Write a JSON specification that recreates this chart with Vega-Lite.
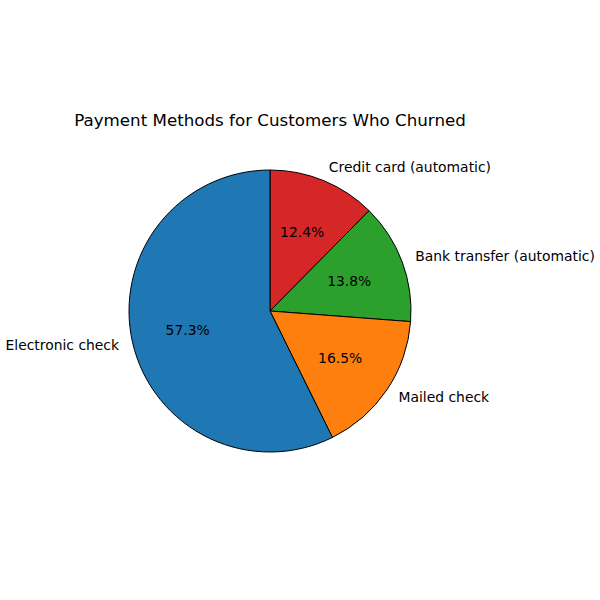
{
  "$schema": "https://vega.github.io/schema/vega-lite/v6.json",
  "autosize": {"type": "none"},
  "width": 540,
  "height": 342,
  "padding": {"top": 140, "left": 0, "right": 60, "bottom": 118},
  "background": "white",
  "view": {"stroke": null},
  "title": {
    "text": "Payment Methods for Customers Who Churned",
    "font": "DejaVu Sans",
    "fontSize": 16.7,
    "fontWeight": "normal",
    "color": "black",
    "anchor": "middle",
    "frame": "group",
    "offset": 10
  },
  "data": {
    "values": [
      {"method": "Credit card (automatic)", "share": 0.124, "rank": 1},
      {"method": "Bank transfer (automatic)", "share": 0.138, "rank": 2},
      {"method": "Mailed check", "share": 0.165, "rank": 3},
      {"method": "Electronic check", "share": 0.573, "rank": 4}
    ]
  },
  "encoding": {
    "theta": {"field": "share", "type": "quantitative", "stack": true},
    "order": {"field": "rank", "type": "quantitative"}
  },
  "layer": [
    {
      "mark": {"type": "arc", "outerRadius": 141, "stroke": "black", "strokeWidth": 1},
      "encoding": {
        "color": {
          "field": "method",
          "type": "nominal",
          "legend": null,
          "scale": {
            "domain": ["Electronic check", "Mailed check", "Bank transfer (automatic)", "Credit card (automatic)"],
            "range": ["#1f77b4", "#ff7f0e", "#2ca02c", "#d62728"]
          }
        }
      }
    },
    {
      "mark": {"type": "text", "radius": 84.6, "font": "DejaVu Sans", "fontSize": 13.9, "color": "black", "align": "center", "baseline": "middle", "dy": 0.5},
      "encoding": {
        "text": {"field": "share", "type": "quantitative", "format": ".1%"}
      }
    },
    {
      "mark": {"type": "text", "radius": 155, "font": "DejaVu Sans", "fontSize": 13.9, "color": "black", "align": "left", "baseline": "middle"},
      "encoding": {
        "text": {"condition": {"test": "datum.method !== 'Electronic check'", "field": "method"}, "value": ""}
      }
    },
    {
      "mark": {"type": "text", "radius": 155, "font": "DejaVu Sans", "fontSize": 13.9, "color": "black", "align": "right", "baseline": "middle"},
      "encoding": {
        "text": {"condition": {"test": "datum.method === 'Electronic check'", "field": "method"}, "value": ""}
      }
    }
  ]
}
